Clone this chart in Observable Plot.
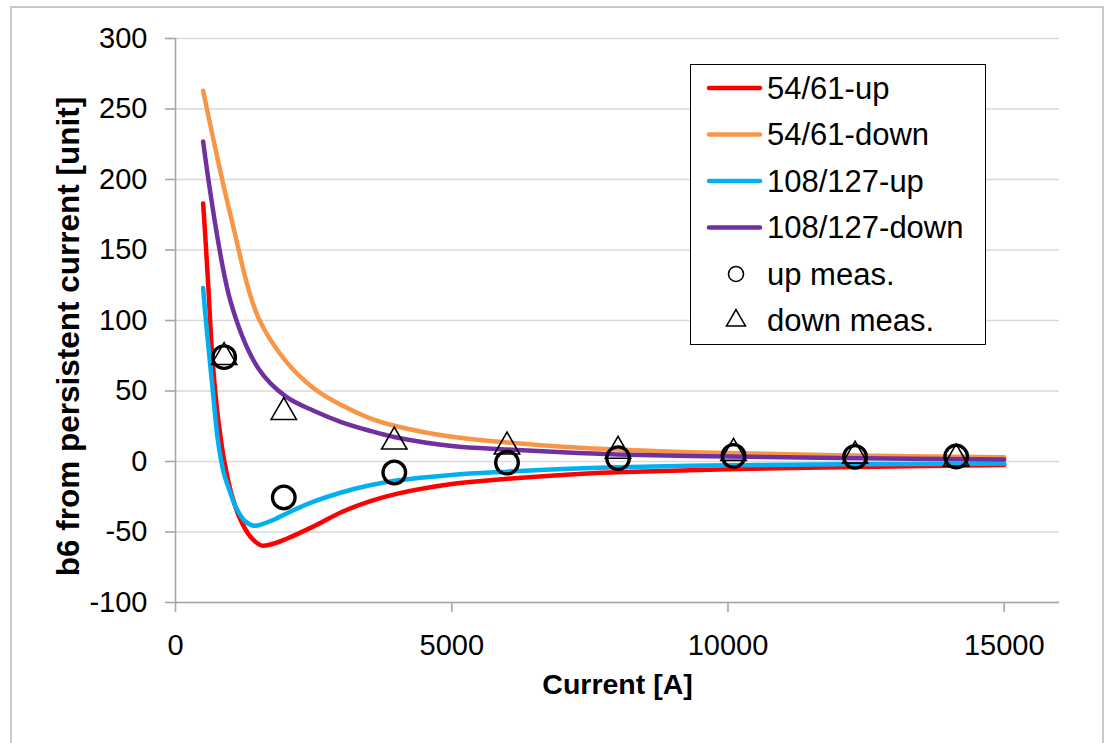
<!DOCTYPE html>
<html>
<head>
<meta charset="utf-8">
<script src="https://cdn.jsdelivr.net/npm/d3@7"></script>
<script src="https://cdn.jsdelivr.net/npm/@observablehq/plot@0.6"></script>
<style>
  html, body { margin: 0; padding: 0; background: #fff; }
  #wrap { position: relative; width: 1117px; height: 743px; overflow: hidden; font-family: "Liberation Sans", Arial, sans-serif; }
  #frame { position: absolute; left: 10px; top: 6px; width: 1094px; height: 760px; border: 2px solid #c8c8c8; box-sizing: border-box; pointer-events: none; z-index: 5; }
  #legend { position: absolute; left: 690px; top: 64px; width: 296px; height: 281px; border: 1.5px solid #000; background: #fff; box-sizing: border-box; }
  #chart { position: absolute; left: 0; top: 0; }
</style>
</head>
<body>
<div id="wrap">
  <div id="chart"></div>
  <div id="legend"></div>
  <div id="frame"></div>
</div>
<script>
// ---- data ----
const seriesNames = ["54/61-up", "54/61-down", "108/127-up", "108/127-down"];
const seriesColors = ["#ff0000", "#f79646", "#00b0f0", "#7030a0"];

const current5461up = [500, 550, 600, 650, 700, 760, 820, 880, 1000, 1150, 1350, 1550, 1800, 2000, 2500, 3000, 3500, 4000, 5000, 6000, 7000, 8000, 10000, 12000, 15000];
const b6_5461up    = [183, 153, 120, 84, 58, 34, 16, 1, -21, -39, -53, -59.5, -58, -55, -46, -36, -28.5, -23, -16, -12.3, -9.5, -7.7, -5.5, -4, -2.5];

const current5461down = [500, 1000, 1500, 2000, 2500, 3000, 3500, 4000, 5000, 6000, 7000, 8000, 9000, 10000, 12000, 15000];
const b6_5461down    = [263, 174, 102, 71, 52, 40, 31, 25, 17.5, 13.5, 10.5, 8.5, 7, 6, 4.5, 3];

const current108up = [500, 550, 600, 650, 700, 760, 820, 880, 1000, 1100, 1250, 1420, 1600, 1800, 2000, 2500, 3000, 3500, 4000, 5000, 6000, 7000, 8000, 10000, 12000, 15000];
const b6_108up    = [123, 100, 80, 60, 40, 17, 2, -9, -23, -33, -42, -45.5, -44, -41, -37, -28.5, -22, -17, -13.5, -9.5, -7.2, -5.3, -4, -2.7, -2, -1.5];

const current108down = [500, 1000, 1500, 2000, 2500, 3000, 3500, 4000, 5000, 6000, 7000, 8000, 10000, 12000, 15000];
const b6_108down    = [227, 113, 66, 46, 36, 28, 22, 17, 11, 8.5, 6.5, 5, 3.5, 2.5, 1.5];

const measCurrent = [880, 1960, 3960, 6000, 8010, 10100, 12300, 14130];
const upMeas      = [74, -25.5, -7.8, -0.8, 2.4, 4, 3.3, 3.5];
const downMeas    = [74, 35, 14, 10.5, 7.5, 6, 4, 2];

const xTicks = [0, 5000, 10000, 15000];
const yTicks = [-100, -50, 0, 50, 100, 150, 200, 250, 300];
const xTitle = "Current [A]";
const yTitle = "b6 from persistent current [unit]";
const legendMeas = ["up meas.", "down meas."];

// ---- tidy tables ----
const seriesX = [current5461up, current5461down, current108up, current108down];
const seriesY = [b6_5461up, b6_5461down, b6_108up, b6_108down];
const curves = seriesNames.flatMap((name, i) =>
  seriesX[i].map((c, j) => ({series: name, current: c, b6: seriesY[i][j]})));
const upData = measCurrent.map((c, i) => ({current: c, b6: upMeas[i]}));
const downData = measCurrent.map((c, i) => ({current: c, b6: downMeas[i]}));

const chart = Plot.plot({
  width: 1117,
  height: 743,
  marginLeft: 175,
  marginRight: 58,
  marginTop: 38,
  marginBottom: 141,
  style: {fontFamily: "Liberation Sans, Arial, sans-serif", fontSize: "29px", color: "#000", background: "transparent", overflow: "visible"},
  x: {domain: [0, 16000], label: null},
  y: {domain: [-100, 300], label: null},
  color: {domain: seriesNames, range: seriesColors},
  marks: [
    Plot.gridY(yTicks, {stroke: "#d9d9d9", strokeOpacity: 1, strokeWidth: 1.6}),
    Plot.ruleX([0], {stroke: "#a6a6a6", strokeWidth: 1.6}),
    Plot.ruleY([-100], {stroke: "#a6a6a6", strokeWidth: 1.6}),
    Plot.axisY(yTicks, {tickSize: 10, tickPadding: 18, stroke: "#a6a6a6", strokeWidth: 1.6, fill: "#000", tickFormat: d => String(d), label: null}),
    Plot.axisX(xTicks, {tickSize: 10, tickPadding: 22, stroke: "#a6a6a6", strokeWidth: 1.6, fill: "#000", tickFormat: d => String(d), label: null}),
    Plot.line(curves, {x: "current", y: "b6", z: "series", stroke: "series", strokeWidth: 4.5, curve: "catmull-rom", strokeLinecap: "round", strokeLinejoin: "round"}),
    Plot.dot(upData, {x: "current", y: "b6", symbol: "circle", r: 11.3, stroke: "#000", strokeWidth: 3.3, fill: "none"}),
    Plot.dot(downData, {x: "current", y: "b6", symbol: "triangle", r: 9.4, stroke: "#000", strokeWidth: 1.6, fill: "none"}),
    Plot.text([xTitle], {frameAnchor: "bottom", dy: 91, fontWeight: "bold", fontSize: 28.5, fill: "#000"}),
    Plot.text([yTitle], {frameAnchor: "left", textAnchor: "middle", dx: -107, dy: 16, rotate: -90, fontWeight: "bold", fontSize: 31.5, fill: "#000"})
  ]
});
document.getElementById("chart").appendChild(chart);

// ---- legend ----
const lw = 296, lh = 281;
const lsvg = d3.select("#legend").append("svg")
  .attr("width", lw - 3).attr("height", lh - 3)
  .style("display", "block")
  .style("font-family", "Liberation Sans, Arial, sans-serif")
  .style("font-size", "31px");
const rowY = i => 23 + i * 46.5;
seriesNames.forEach((name, i) => {
  lsvg.append("line").attr("x1", 18).attr("x2", 69).attr("y1", rowY(i)).attr("y2", rowY(i))
    .attr("stroke", seriesColors[i]).attr("stroke-width", 4.5).attr("stroke-linecap", "round");
  lsvg.append("text").attr("x", 76).attr("y", rowY(i)).attr("dy", "0.35em").text(name);
});
lsvg.append("path").attr("d", d3.symbol(d3.symbolCircle, Math.PI * 7.5 * 7.5)())
  .attr("transform", `translate(45,${rowY(4)})`).attr("fill", "none").attr("stroke", "#000").attr("stroke-width", 1.6);
lsvg.append("text").attr("x", 76).attr("y", rowY(4)).attr("dy", "0.35em").text(legendMeas[0]);
lsvg.append("path").attr("d", d3.symbol(d3.symbolTriangle, Math.PI * 7 * 7)())
  .attr("transform", `translate(45,${rowY(5)})`).attr("fill", "none").attr("stroke", "#000").attr("stroke-width", 1.6);
lsvg.append("text").attr("x", 76).attr("y", rowY(5)).attr("dy", "0.35em").text(legendMeas[1]);
</script>
</body>
</html>
